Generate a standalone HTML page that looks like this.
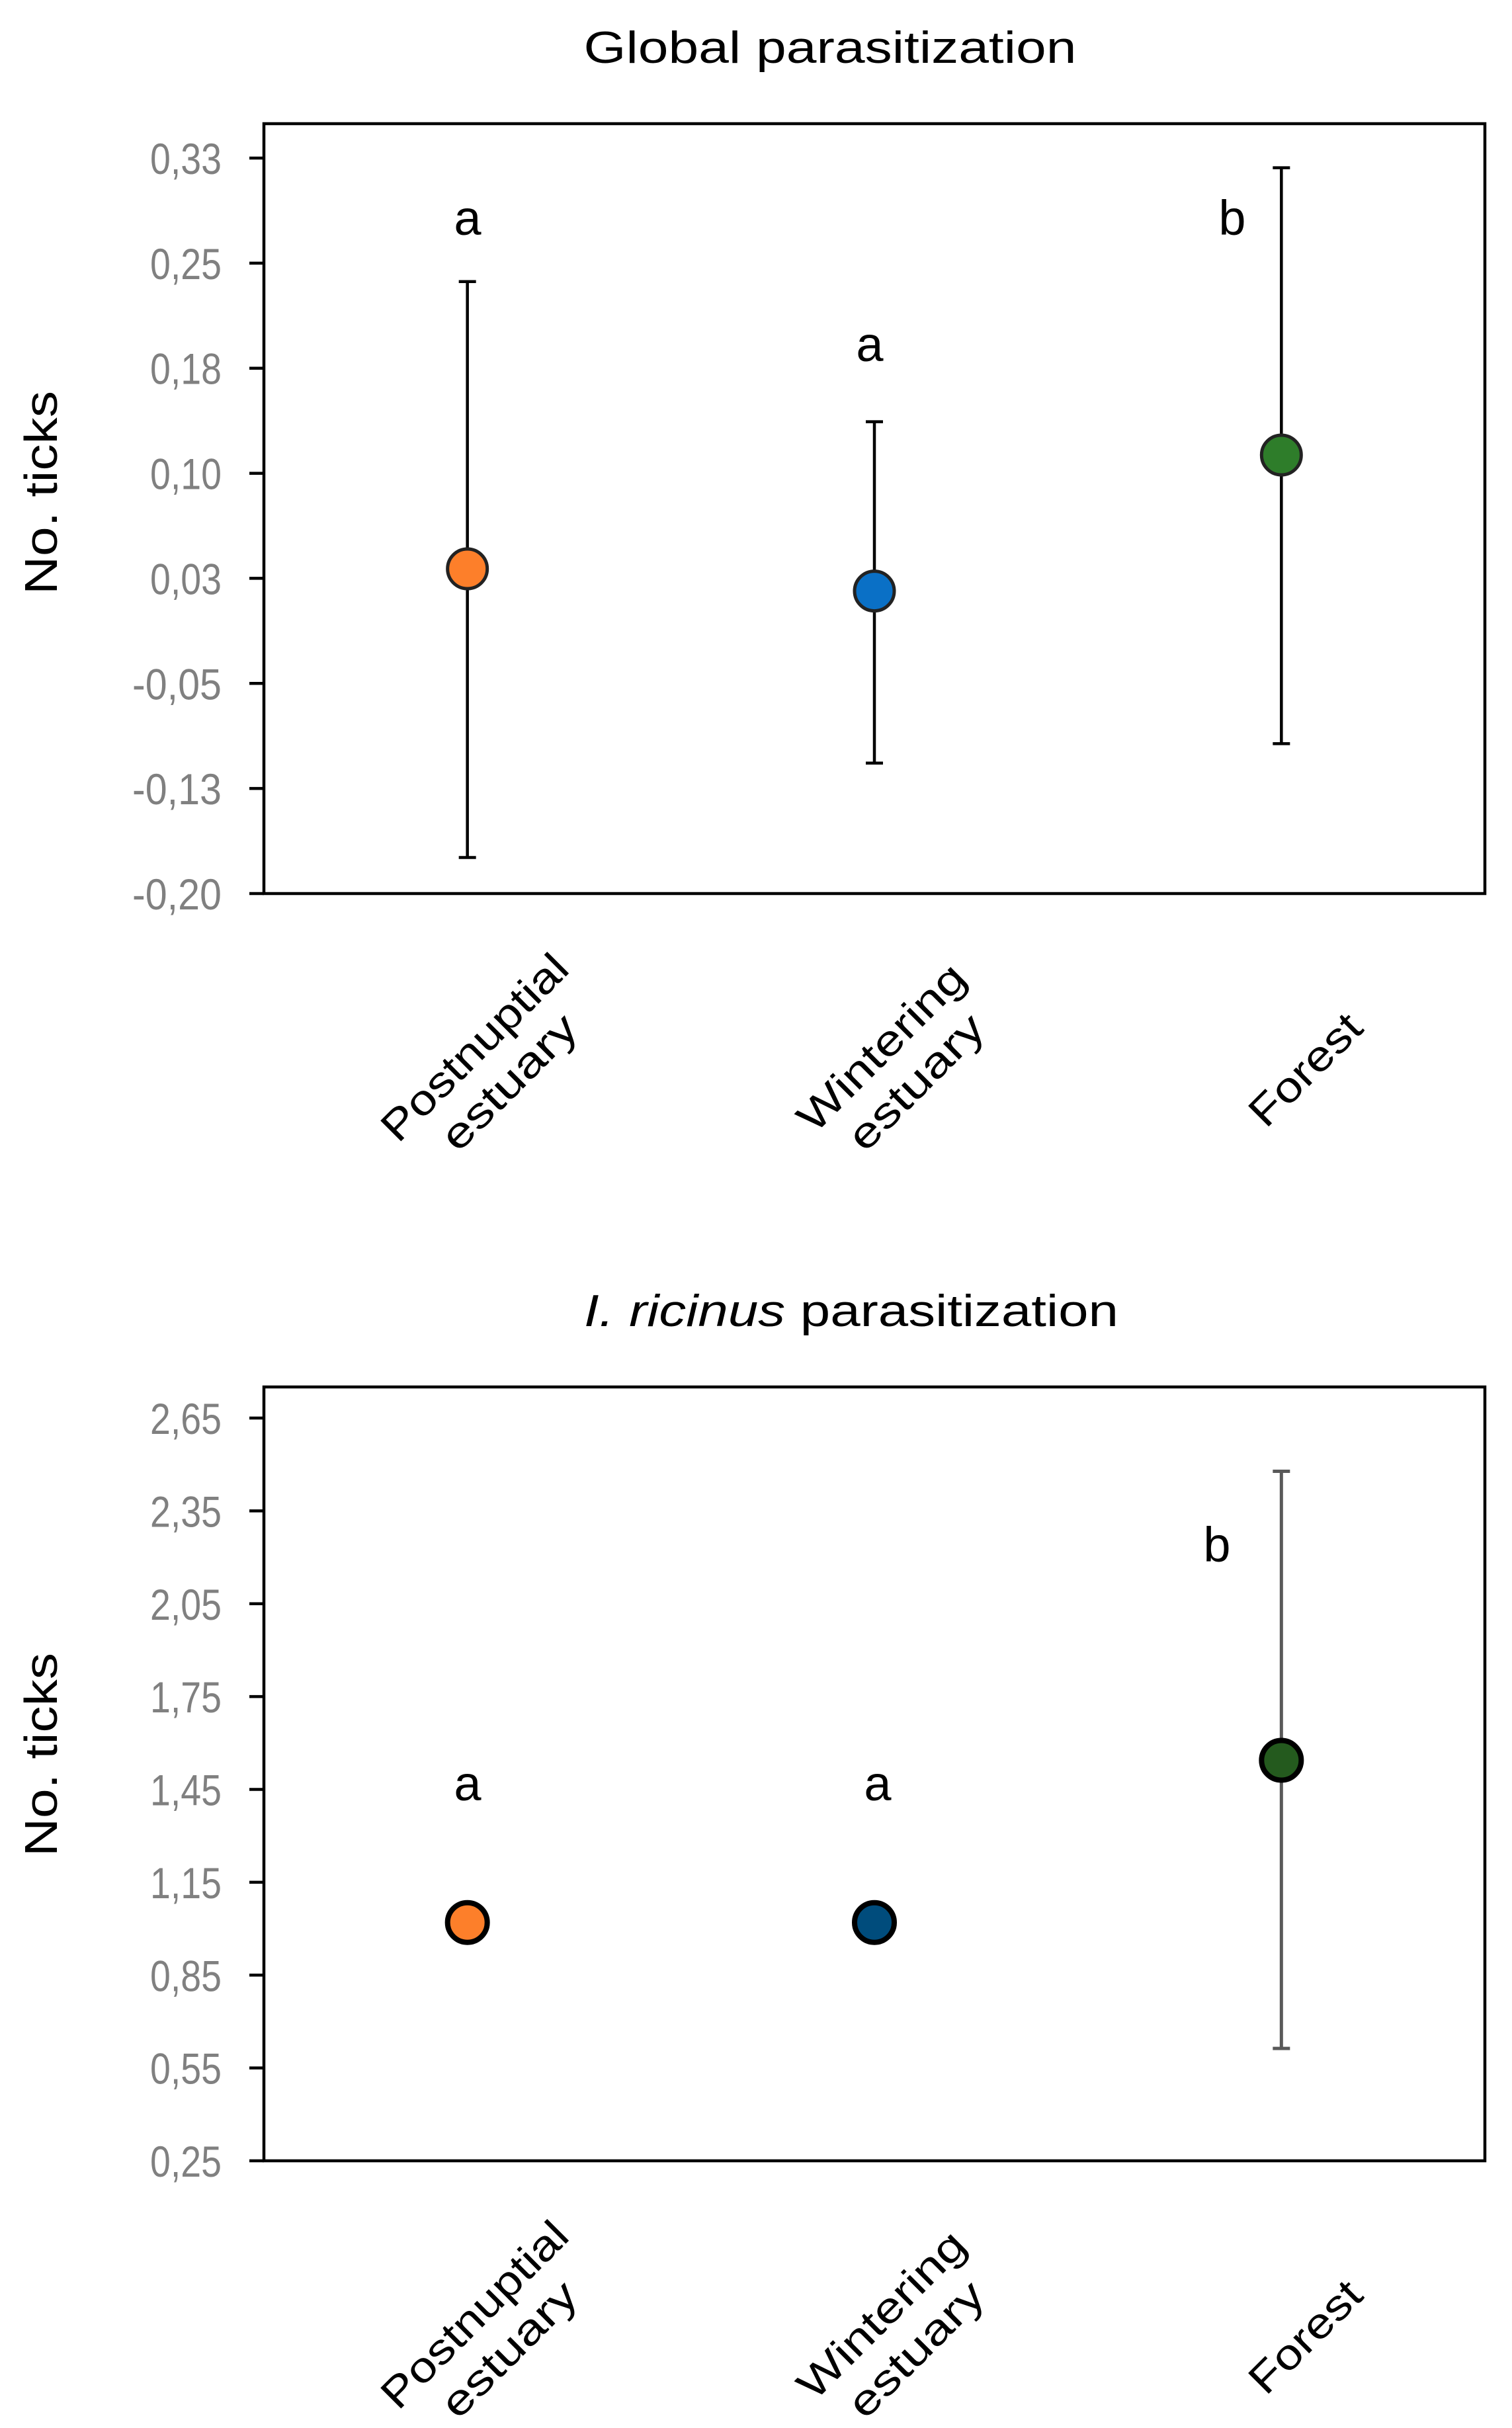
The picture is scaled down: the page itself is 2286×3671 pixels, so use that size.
<!DOCTYPE html>
<html><head><meta charset="utf-8">
<style>
html,body{margin:0;padding:0;background:#fff;}
svg{display:block;}
text{font-family:"Liberation Sans",sans-serif;}
</style></head>
<body>
<svg id="fig" width="2286" height="3671" viewBox="0 0 2286 3671" xmlns="http://www.w3.org/2000/svg"></svg>
<script>
// ---- data ----
const categories = ["Postnuptial|estuary", "Wintering|estuary", "Forest"];
const globalMeans = [0.034, 0.018, 0.116];
const globalUpper = [0.241, 0.140, 0.323];
const globalLower = [-0.174, -0.106, -0.092];
const globalLetters = ["a", "a", "b"];
const globalTicks = ["-0,20", "-0,13", "-0,05", "0,03", "0,10", "0,18", "0,25", "0,33"];
const ricinusMeans = [1.02, 1.02, 1.544];
const ricinusUpper = [null, null, 2.478];
const ricinusLower = [null, null, 0.613];
const ricinusLetters = ["a", "a", "b"];
const ricinusTicks = ["0,25", "0,55", "0,85", "1,15", "1,45", "1,75", "2,05", "2,35", "2,65"];

const NS = "http://www.w3.org/2000/svg";
const svg = document.getElementById("fig");
function mk(tag, attrs, parent) {
  const e = document.createElementNS(NS, tag);
  for (const k in attrs) e.setAttribute(k, attrs[k]);
  (parent || svg).appendChild(e);
  return e;
}

function drawChart(cfg) {
  const g = mk("g", {});
  
  
  const L = 399, R = 2245;
  const y = v => cfg.y0 - (v - cfg.vmin) / (cfg.vmax - cfg.vmin) * (cfg.y0 - cfg.y1);
  const bw = (R - L) / categories.length;
  const x = i => L + bw * (i + 0.5);

  const t = mk("text", {x: cfg.titleX, y: cfg.titleY, "font-size": 68, "text-anchor": "middle", fill: "#000", textLength: cfg.titleLen, lengthAdjust: "spacingAndGlyphs"}, g);
  
  
  if (cfg.italicTitle) {
    const s1 = mk("tspan", {"font-style": "italic"}, t); s1.textContent = "I. ricinus";
    const s2 = mk("tspan", {}, t); s2.textContent = " parasitization";
  } else t.textContent = cfg.title;

  const box = mk("rect", {x: L, y: cfg.top, width: R - L, height: cfg.y0 - cfg.top, fill: "none", stroke: "#000", "stroke-width": 4.5}, g);
  
  

  const n = cfg.ticks.length;
  cfg.ticks.forEach((lab, i) => {
    const v = cfg.vmin + (cfg.vmax - cfg.vmin) * i / (n - 1);
    const yy = y(v);
    const tk = mk("line", {x1: L - 22, x2: L, y1: yy, y2: yy, stroke: "#000", "stroke-width": 4.5}, g);
    
    
    const tl = mk("text", {x: 335, y: yy + 24, "font-size": 66, "text-anchor": "end", fill: "#808080", textLength: lab.length * 27, lengthAdjust: "spacingAndGlyphs"}, g);
    tl.textContent = lab;
    
    
  });

  const yt = mk("text", {x: 0, y: 0, "font-size": 70, "text-anchor": "middle", fill: "#000", transform: `translate(86,${cfg.ylabY}) rotate(-90)`, textLength: 308, lengthAdjust: "spacingAndGlyphs"}, g);
  yt.textContent = "No. ticks";
  
  

  const lens = [[370, 262], [330, 262], [212]];
  categories.forEach((c, i) => {
    const lines = c.split("|");
    const cx = x(i) + 36, cy = cfg.y0 + 258 + (lines.length === 1 ? 8 : 0);
    const lg = mk("g", {transform: `translate(${cx},${cy}) rotate(-45)`}, g);
    
    
    lines.forEach((ln, j) => {
      const by = lines.length === 1 ? 22 : (j === 0 ? -14 : 60);
      const tt = mk("text", {x: 0, y: by, "font-size": 64, "text-anchor": "middle", fill: "#000", textLength: lens[i][j], lengthAdjust: "spacingAndGlyphs"}, lg);
      tt.textContent = ln;
    });
  });

  cfg.means.forEach((m, i) => {
    const xx = x(i);
    if (cfg.upper[i] !== null) {
      const eb = mk("g", {}, g);
      
      
      const yu = y(cfg.upper[i]), yl = y(cfg.lower[i]);
      mk("line", {x1: xx, x2: xx, y1: yu, y2: yl, stroke: cfg.ebColor, "stroke-width": cfg.ebW}, eb);
      mk("line", {x1: xx - 13, x2: xx + 13, y1: yu, y2: yu, stroke: cfg.ebColor, "stroke-width": cfg.ebW}, eb);
      mk("line", {x1: xx - 13, x2: xx + 13, y1: yl, y2: yl, stroke: cfg.ebColor, "stroke-width": cfg.ebW}, eb);
    }
    const c = mk("circle", {cx: xx, cy: y(m), r: cfg.r, fill: cfg.colors[i], stroke: cfg.mStroke, "stroke-width": cfg.mSW}, g);
    
    
    const lt = mk("text", {x: cfg.letterX[i], y: cfg.letterY[i], "font-size": 74, "text-anchor": "middle", fill: "#000"}, g);
    lt.textContent = cfg.letters[i];
    
    
  });
}

drawChart({
  name: "global-parasitization-chart", title: "Global parasitization", titleX: 1255, titleY: 95, titleLen: 745,
  top: 187, y0: 1351, y1: 239, vmin: -0.20, vmax: 0.33, ticks: globalTicks, ylabY: 745,
  means: globalMeans, upper: globalUpper, lower: globalLower, letters: globalLetters,
  letterX: [707, 1315, 1863], letterY: [355, 546, 355],
  colors: ["#fd7f2a", "#0a70c6", "#2e7d2a"], r: 30, mStroke: "#222", mSW: 5,
  ebColor: "#000", ebW: 4.5
});
drawChart({
  name: "ricinus-parasitization-chart", italicTitle: true, titleX: 1287, titleY: 2005, titleLen: 808,
  top: 2097, y0: 3267, y1: 2144, vmin: 0.25, vmax: 2.65, ticks: ricinusTicks, ylabY: 2653,
  means: ricinusMeans, upper: ricinusUpper, lower: ricinusLower, letters: ricinusLetters,
  letterX: [707, 1327, 1840], letterY: [2722, 2722, 2361],
  colors: ["#fd7f2a", "#004c7c", "#245a1e"], r: 30, mStroke: "#000", mSW: 8,
  ebColor: "#595959", ebW: 5
});
</script>
</body></html>
